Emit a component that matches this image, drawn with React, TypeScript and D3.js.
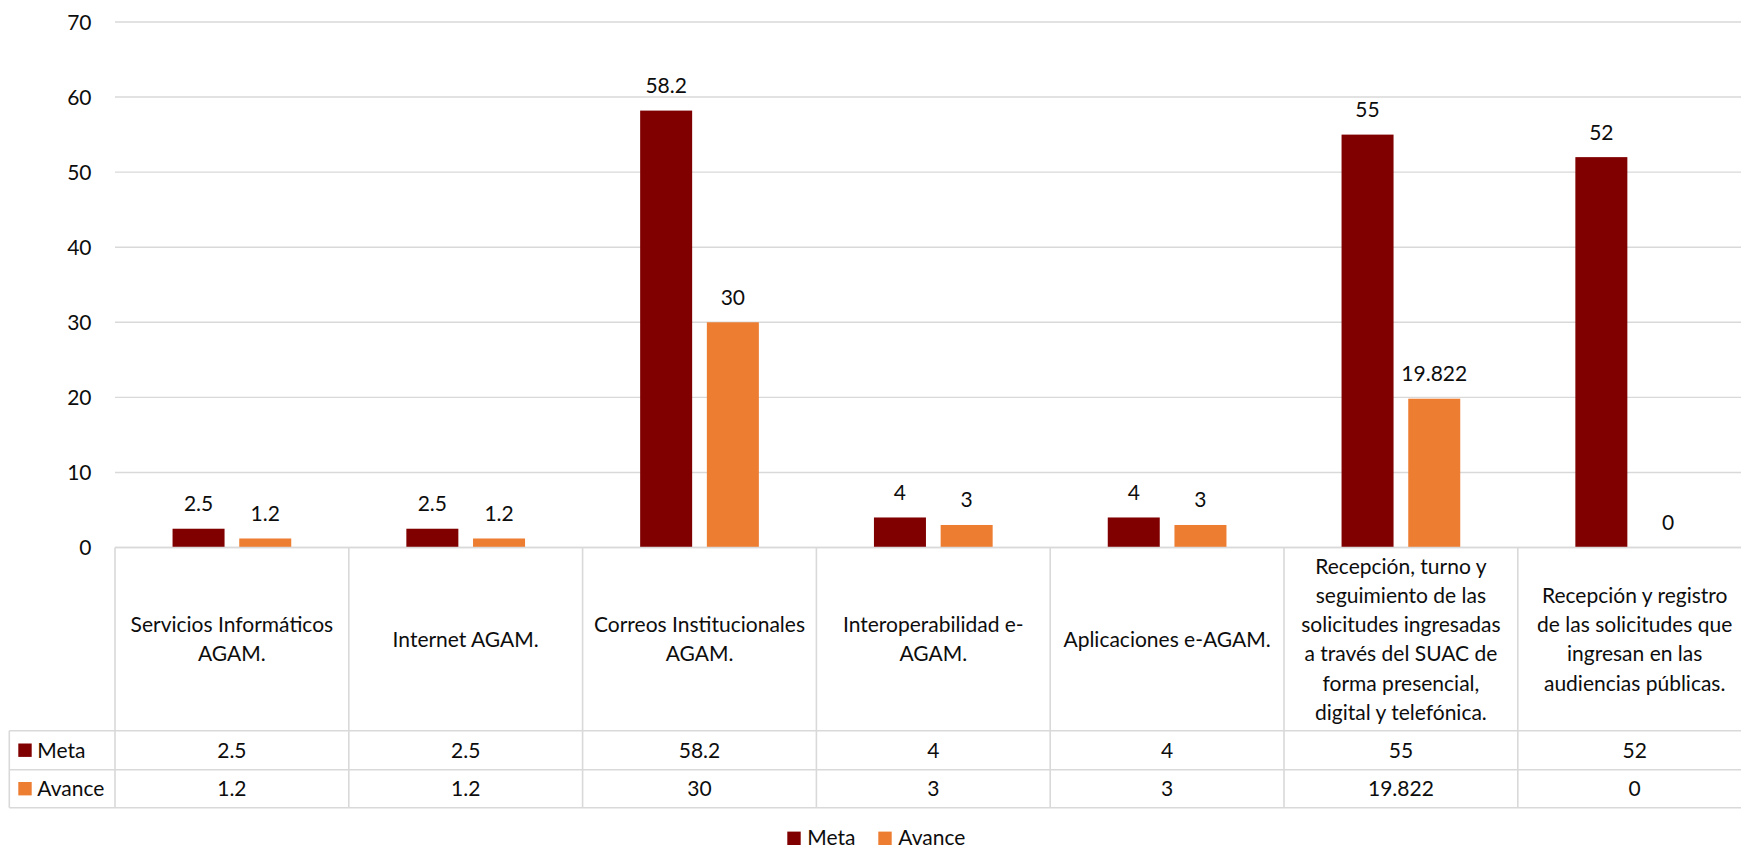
import React from "react";
import * as d3 from "d3";

const categoryLines: string[][] = [
  ["Servicios Informáticos", "AGAM."],
  ["Internet AGAM."],
  ["Correos Institucionales", "AGAM."],
  ["Interoperabilidad e-", "AGAM."],
  ["Aplicaciones e-AGAM."],
  ["Recepción, turno y", "seguimiento de las", "solicitudes ingresadas", "a través del SUAC de", "forma presencial,", "digital y telefónica."],
  ["Recepción y registro", "de las solicitudes que", "ingresan en las", "audiencias públicas."],
];
const categories = categoryLines.map((l) => l.join(" "));
const seriesNames = ["Meta", "Avance"];
const seriesColors = ["#800000", "#ED7D31"];
const metaValues = [2.5, 2.5, 58.2, 4, 4, 55, 52];
const avanceValues = [1.2, 1.2, 30, 3, 3, 19.822, 0];
const metaLabels = ["2.5", "2.5", "58.2", "4", "4", "55", "52"];
const avanceLabels = ["1.2", "1.2", "30", "3", "3", "19.822", "0"];
const yTicks = [0, 10, 20, 30, 40, 50, 60, 70];

const W = 1741;
const H = 850;
const FONT = "Lato, 'Open Sans', sans-serif";
const FS = 21;
const GRID = "#d9d9d9";
const TEXT = "#0d0d0d";

export default function App() {
  const left = 115;
  const step = 233.8;
  const right = left + step * categories.length;
  const top = 22;
  const zeroY = 547.5;
  const tableCatBottom = 730.7;
  const row1Bottom = 769.7;
  const row2Bottom = 807.7;
  const legendColLeft = 9.3;

  const y = d3.scaleLinear().domain([0, 70]).range([zeroY, top]);
  const x0 = d3.scaleBand<string>().domain(categories).range([left, right]).paddingInner(0).paddingOuter(0);
  const groupW = 118.7;
  const x1 = d3
    .scaleBand<string>()
    .domain(seriesNames)
    .range([(x0.bandwidth() - groupW) / 2, (x0.bandwidth() + groupW) / 2])
    .paddingInner(0.2204)
    .paddingOuter(0);

  const seriesValues = [metaValues, avanceValues];
  const seriesLabels = [metaLabels, avanceLabels];
  const capHalf = 7.6;
  const lineH = 29.2;
  const catCenter = (zeroY + tableCatBottom) / 2;
  const rowCenters = [(tableCatBottom + row1Bottom) / 2, (row1Bottom + row2Bottom) / 2];

  return (
    <svg
      width={W}
      height={H}
      style={{ position: "absolute", left: 0, top: 0, background: "#fff" }}
      fontFamily={FONT}
      fontSize={FS}
    >
      <rect x={0} y={0} width={W} height={H} fill="#fff" />
      {/* gridlines */}
      {yTicks.map((t) => (
        <g key={t}>
          <line x1={left} x2={right} y1={y(t)} y2={y(t)} stroke={GRID} strokeWidth={1.4} />
          <text x={91.5} y={y(t) + capHalf} textAnchor="end" fill={TEXT}>
            {t}
          </text>
        </g>
      ))}
      {/* bars */}
      {seriesNames.map((s, si) =>
        categories.map((c, ci) => {
          const v = seriesValues[si][ci];
          const bx = (x0(c) as number) + (x1(s) as number);
          const bw = x1.bandwidth();
          return (
            <g key={s + ci}>
              <rect x={bx} y={y(v)} width={bw} height={zeroY - y(v)} fill={seriesColors[si]} />
              <text x={bx + bw / 2} y={y(v) - 17.5} textAnchor="middle" fill={TEXT}>
                {seriesLabels[si][ci]}
              </text>
            </g>
          );
        })
      )}
      {/* data table */}
      <g stroke={GRID} strokeWidth={1.6} fill="none">
        <line x1={left} x2={right} y1={zeroY} y2={zeroY} />
        <line x1={legendColLeft} x2={right} y1={tableCatBottom} y2={tableCatBottom} />
        <line x1={legendColLeft} x2={right} y1={row1Bottom} y2={row1Bottom} />
        <line x1={legendColLeft} x2={right} y1={row2Bottom} y2={row2Bottom} />
        <line x1={legendColLeft} x2={legendColLeft} y1={tableCatBottom} y2={row2Bottom} />
        {categories.map((c) => (
          <line key={c} x1={x0(c) as number} x2={x0(c) as number} y1={zeroY} y2={row2Bottom} />
        ))}
        <line x1={right} x2={right} y1={zeroY} y2={row2Bottom} />
      </g>
      {categories.map((c, ci) => {
        const cx = (x0(c) as number) + x0.bandwidth() / 2;
        const lines = categoryLines[ci];
        return (
          <g key={"lab" + ci}>
            {lines.map((ln, li) => (
              <text
                key={li}
                x={cx}
                y={catCenter + (li - (lines.length - 1) / 2) * lineH + capHalf}
                textAnchor="middle"
                fill={TEXT}
              >
                {ln}
              </text>
            ))}
            {seriesNames.map((s, si) => (
              <text key={s} x={cx} y={rowCenters[si] + capHalf} textAnchor="middle" fill={TEXT}>
                {seriesLabels[si][ci]}
              </text>
            ))}
          </g>
        );
      })}
      {seriesNames.map((s, si) => (
        <g key={"leg" + s}>
          <rect x={18.3} y={rowCenters[si] - 6.7} width={13.4} height={13.4} fill={seriesColors[si]} />
          <text x={37.3} y={rowCenters[si] + capHalf} fill={TEXT}>
            {s}
          </text>
        </g>
      ))}
      {/* bottom legend */}
      {(() => {
        const xs = [787.3, 878.3];
        return seriesNames.map((s, si) => (
          <g key={"bl" + s}>
            <rect x={xs[si]} y={831.6} width={13.4} height={13.4} fill={seriesColors[si]} />
            <text x={xs[si] + 20} y={845} fill={TEXT}>
              {s}
            </text>
          </g>
        ));
      })()}
    </svg>
  );
}
